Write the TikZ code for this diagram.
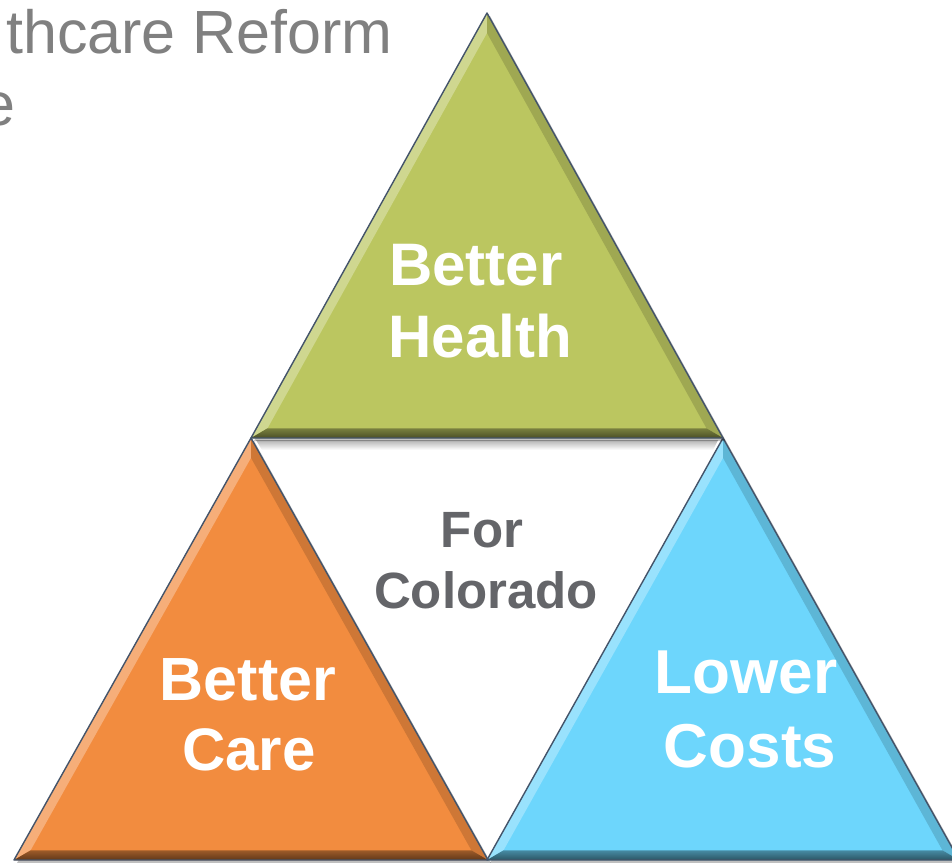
\documentclass[tikz,border=0pt]{standalone}
\usepackage{fontspec}
\setmainfont{Liberation Sans}
\usetikzlibrary{calc}
\definecolor{grn}{HTML}{BBC660}
\definecolor{org}{HTML}{F28C3F}
\definecolor{blu}{HTML}{6DD6FC}
\definecolor{edgec}{HTML}{44546A}
\definecolor{titlegray}{HTML}{808080}
\definecolor{midgray}{HTML}{646569}
\tikzset{
  lbl/.style={font=\bfseries\fontsize{#1}{#1}\selectfont, text=white, inner sep=0pt, anchor=base},
  midlbl/.style={font=\bfseries\fontsize{#1}{#1}\selectfont, text=midgray, inner sep=0pt, anchor=base},
  ttl/.style={font=\fontsize{61}{61}\selectfont, text=titlegray, inner sep=0pt, anchor=base east},
  outl/.style={draw=edgec, line width=1.4pt, line join=round}
}
% #1 prefix, #2 apex, #3 left, #4 right, #5 incenter, #6 colour
\newcommand\bevtri[6]{%
  \coordinate (#1A) at #2;
  \coordinate (#1B) at #3;
  \coordinate (#1C) at #4;
  \coordinate (#1I) at #5;
  \coordinate (#1a) at ($(#1I)!0.93!(#1A)$);
  \coordinate (#1b) at ($(#1I)!0.93!(#1B)$);
  \coordinate (#1c) at ($(#1I)!0.93!(#1C)$);
  \fill[black, opacity=0.25] ($(#1A)+(3,3)$) -- ($(#1B)+(3,3)$) -- ($(#1C)+(3,3)$) -- cycle;
  \fill[#6] (#1A) -- (#1B) -- (#1C) -- cycle;
  \fill[#6!70!white] (#1A) -- (#1B) -- (#1b) -- (#1a) -- cycle;
  \fill[#6!85!black] (#1A) -- (#1C) -- (#1c) -- (#1a) -- cycle;
  \shade[top color=#6!65!black, bottom color=#6!40!black] (#1B) -- (#1C) -- (#1c) -- (#1b) -- cycle;
  \draw[outl] (#1A) -- (#1B) -- (#1C) -- cycle;
}
\begin{document}
\begin{tikzpicture}[x=1pt,y=-1pt]
\clip (0,0) rectangle (952,862);
\fill[white] (0,0) rectangle (952,862);

% title fragments
\node[ttl] (t1) at (393,53) {thcare Reform};
\node[ttl] (t2) at (16,125) {e};

% triangles
\bevtri{b}{(251,438)}{(14,860)}{(488,860)}{(251,721.6)}{org}
\bevtri{c}{(723,438)}{(487,860)}{(959,860)}{(723,721.6)}{blu}
% shadow under the top triangle
\shade[top color=black!30, bottom color=white] (256,440) -- (718,440) -- (713,450) -- (262,450) -- cycle;
\bevtri{a}{(487,13)}{(251,438)}{(723,438)}{(487,299)}{grn}

% labels
\node[lbl=60] (bh1) at (476,285) {Better};
\node[lbl=60] (bh2) at (480,357) {Health};
\node[midlbl=51] (fc1) at (482,547) {For};
\node[midlbl=51] (fc2) at (486,608) {Colorado};
\node[lbl=61] (bc1) at (248,700) {Better};
\node[lbl=60] (bc2) at (249,770) {Care};
\node[lbl=62] (lc1) at (746,693) {Lower};
\node[lbl=62] (lc2) at (750,767) {Costs};
\end{tikzpicture}
\end{document}
